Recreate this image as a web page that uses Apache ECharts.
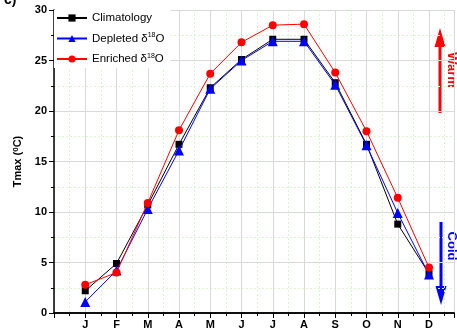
<!DOCTYPE html>
<html><head><meta charset="utf-8">
<script src="https://cdn.jsdelivr.net/npm/echarts@6/dist/echarts.min.js"></script>
<style>html,body{margin:0;padding:0;background:#fff}#c{width:457px;height:335px}</style>
</head><body><div id="c"></div>
<script>
const months = ['J','F','M','A','M','J','J','A','S','O','N','D'];
const climatology = [2.2, 4.9, 10.7, 16.7, 22.3, 25.1, 27.1, 27.1, 22.8, 16.7, 8.8, 3.9];
const depleted    = [1.1, 4.2, 10.3, 16.1, 22.2, 25.0, 26.9, 26.9, 22.6, 16.6, 9.9, 3.8];
const enriched    = [2.8, 4.0, 10.9, 18.1, 23.7, 26.8, 28.5, 28.6, 23.8, 18.0, 11.4, 4.5];
const yTicks = [0, 5, 10, 15, 20, 25, 30];

const pts = arr => arr.map((v, i) => [i + 1, v]);
const font = '"Liberation Sans", Arial, sans-serif';
const chart = echarts.init(document.getElementById('c'), null, {renderer: 'canvas'});
const sup = {sup: {fontSize: 8, verticalAlign: 'top', padding: [0, 0, 6, 0], fontFamily: font, fontWeight: 'bold', color: '#000'}};

chart.setOption({
  animation: false,
  grid: {left: 54, top: 10, right: 0, bottom: 22, containLabel: false},
  legend: {
    left: 54, top: 10, orient: 'vertical', itemWidth: 30, itemHeight: 9, itemGap: 8,
    padding: [2, 6, 3, 2], backgroundColor: '#fff', z: 10,
    textStyle: {fontFamily: font, fontSize: 11.5, color: '#000', rich: {sup: {fontSize: 7, verticalAlign: 'top', padding: [0,0,6,0], fontFamily: font}}},
    formatter: n => n.replace('δ18O', 'δ{sup|18}O'),
    data: ['Climatology', 'Depleted δ18O', 'Enriched δ18O']
  },
  xAxis: [{
    type: 'value', min: 0, max: 12.8, interval: 1,
    axisLine: {show: true, onZero: false, lineStyle: {color: '#000', width: 1.5}},
    axisTick: {show: true, length: 5, inside: false, lineStyle: {color: '#000', width: 1}},
    minorTick: {show: true, splitNumber: 2, length: 3, lineStyle: {color: '#000', width: 1}},
    axisLabel: {fontFamily: font, fontWeight: 'bold', fontSize: 11, color: '#000', margin: 6,
      formatter: v => (Number.isInteger(v) && v >= 1 && v <= 12) ? months[v - 1] : ''},
    splitLine: {show: true, lineStyle: {color: '#d9d9d9', width: 1}},
    minorSplitLine: {show: true, lineStyle: {color: '#d8f5d0', width: 1, type: [2, 2]}}
  }, {
    type: 'value', position: 'top', min: 0, max: 12.8, interval: 1,
    axisLine: {show: true, lineStyle: {color: '#000', width: 1.5}},
    axisTick: {show: false}, axisLabel: {show: false}, splitLine: {show: false}
  }],
  yAxis: {
    type: 'value', min: yTicks[0], max: yTicks[yTicks.length - 1], interval: 5,
    name: 'Tmax ({sup|0}C)', nameLocation: 'middle', nameGap: 27, nameRotate: 90,
    nameTextStyle: {fontFamily: font, fontWeight: 'bold', fontSize: 11, color: '#000', rich: sup},
    axisLine: {show: true, onZero: false, lineStyle: {color: '#000', width: 1.5}},
    axisTick: {show: true, length: 5, lineStyle: {color: '#000', width: 1}},
    minorTick: {show: true, splitNumber: 2, length: 3, lineStyle: {color: '#000', width: 1}},
    axisLabel: {fontFamily: font, fontWeight: 'bold', fontSize: 11, color: '#000', margin: 7},
    splitLine: {show: true, lineStyle: {color: '#d9d9d9', width: 1}},
    minorSplitLine: {show: true, lineStyle: {color: '#d8f5d0', width: 1, type: [2, 2]}}
  },
  series: [
    {name: 'Climatology', type: 'line', data: pts(climatology), symbol: 'rect', symbolSize: 7,
     lineStyle: {color: '#000', width: 1}, itemStyle: {color: '#000'}, z: 2},
    {name: 'Depleted δ18O', type: 'line', data: pts(depleted), symbol: 'triangle', symbolSize: 10,
     lineStyle: {color: '#0000ff', width: 1}, itemStyle: {color: '#0000ff'}, z: 3},
    {name: 'Enriched δ18O', type: 'line', data: pts(enriched), symbol: 'circle', symbolSize: 8,
     lineStyle: {color: '#ff0000', width: 1}, itemStyle: {color: '#ff0000'}, z: 4}
  ],
  graphic: [
    {type: 'text', left: 4, top: -7, style: {text: 'c)', fontFamily: font, fontWeight: 'bold', fontSize: 14, fill: '#000'}},
    {type: 'line', shape: {x1: 440, y1: 113, x2: 440, y2: 44}, style: {stroke: '#ff0000', lineWidth: 3}},
    {type: 'polygon', shape: {points: [[440, 28], [445.5, 47], [434.5, 47]]}, style: {fill: '#ff0000'}},
    {type: 'text', x: 452, y: 70, rotation: -Math.PI / 2,
     style: {text: 'Warm', fontFamily: font, fontWeight: 'bold', fontSize: 13, fill: '#ff0000', align: 'center', verticalAlign: 'middle'}},
    {type: 'line', shape: {x1: 441, y1: 222, x2: 441, y2: 290}, style: {stroke: '#0000ff', lineWidth: 3}},
    {type: 'polygon', shape: {points: [[441, 305], [446.5, 286], [435.5, 286]]}, style: {fill: '#0000ff'}},
    {type: 'text', x: 452, y: 246, rotation: -Math.PI / 2,
     style: {text: 'Cold', fontFamily: font, fontWeight: 'bold', fontSize: 13, fill: '#0000ff', align: 'center', verticalAlign: 'middle'}}
  ]
});
</script></body></html>
